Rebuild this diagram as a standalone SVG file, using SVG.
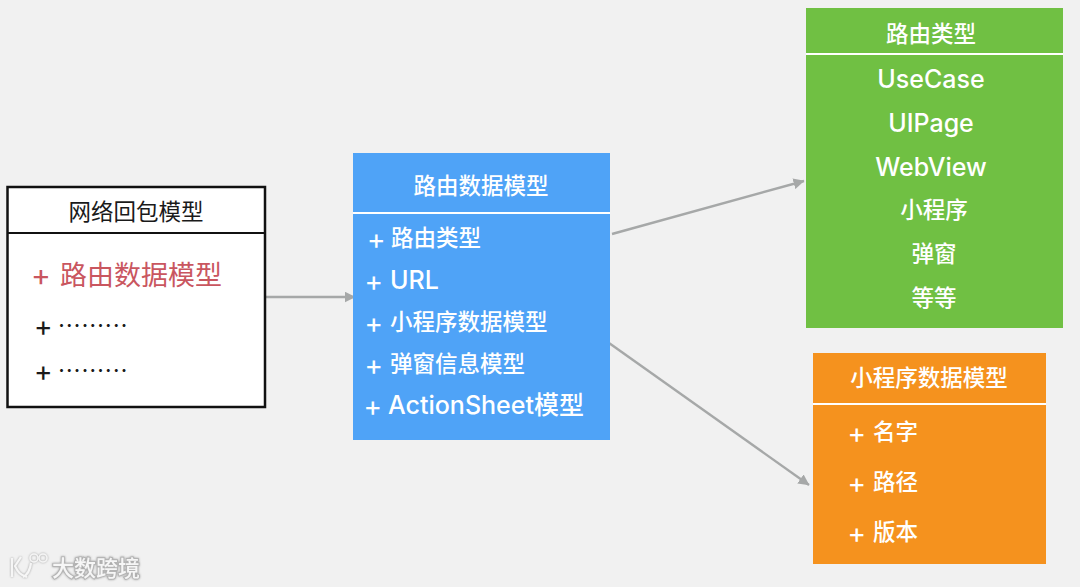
<svg xmlns="http://www.w3.org/2000/svg" width="1080" height="587" viewBox="0 0 1080 587">
<style>
text{font-family:"Inter","Noto Sans CJK SC","Noto Sans",sans-serif;font-size:22.5px;fill:#fff;font-weight:500}
.c{text-anchor:middle}
.k{fill:#1a1a1a;font-weight:400}
.s{font-size:25px}
.p{font-size:28px;font-weight:400}
.d{font-size:18px;letter-spacing:1.800px;font-weight:700}
.div{stroke:#fff;stroke-width:2}
.conn{stroke:#a6a8a8;stroke-width:2.4;fill:none;marker-end:url(#arr)}
.wm{fill:#f6f6f6;font-size:22px;stroke:#b4b4b4;stroke-width:1.800;paint-order:stroke}
.logo{fill:none;stroke:#f6f6f6;stroke-width:2.200}
</style>
<defs>
<marker id="arr" markerUnits="userSpaceOnUse" markerWidth="12" markerHeight="11" refX="10.5" refY="5.5" orient="auto">
<path d="M0 0L11 5.5L0 11z" fill="#a6a8a8"/>
</marker>
<filter id="sh" x="-20%" y="-20%" width="140%" height="140%"><feDropShadow dx="0" dy="0" stdDeviation="1" flood-color="#999"/></filter>
</defs>
<rect width="1080" height="587" fill="#f1f1f1"/>
<g id="connectors">
<path class="conn" d="M264 297L355 297"/>
<path class="conn" d="M612 234L804 181"/>
<path class="conn" d="M609 343L809 485"/>
</g>
<g id="node-network">
<rect x="7.500" y="187" width="257.500" height="220" fill="#fff" stroke="#111" stroke-width="2.500"/>
<path d="M7 233H265" stroke="#111" stroke-width="2"/>
<text class="c k" x="136" y="220">网络回包模型</text>
<text x="31" y="286" style="fill:#c9565f;font-size:30px;font-weight:400">+</text>
<text x="60" y="285" style="fill:#c9565f;font-size:27px;font-weight:400">路由数据模型</text>
<text class="k p" x="34" y="336">+</text>
<text class="k d" x="58.500" y="332">·········</text>
<text class="k p" x="34" y="381">+</text>
<text class="k d" x="58.500" y="377">·········</text>
</g>
<g id="node-route-data">
<rect x="353" y="153" width="257" height="287" fill="#4fa3f7"/>
<path class="div" d="M353 213H610"/>
<text class="c" x="481" y="194">路由数据模型</text>
<text class="p" x="367" y="249">+</text><text x="391" y="246">路由类型</text>
<text class="p" x="364.500" y="291">+</text><text class="s" x="390" y="289">URL</text>
<text class="p" x="364.500" y="333">+</text><text x="390" y="330">小程序数据模型</text>
<text class="p" x="364.500" y="375">+</text><text x="390" y="372">弹窗信息模型</text>
<text class="p" x="363.500" y="416">+</text><text class="s" x="388" y="414">ActionSheet模型</text>
</g>
<g id="node-route-type">
<rect x="806" y="8" width="257" height="320" fill="#70c043"/>
<path class="div" d="M806 54H1063"/>
<text class="c" x="931" y="42">路由类型</text>
<text class="c s" x="931" y="88">UseCase</text>
<text class="c s" x="931" y="132">UIPage</text>
<text class="c s" x="931" y="176">WebView</text>
<text class="c" x="934" y="218">小程序</text>
<text class="c" x="934" y="262">弹窗</text>
<text class="c" x="934" y="306">等等</text>
</g>
<g id="node-miniapp">
<rect x="813" y="353" width="233" height="211" fill="#f5921e"/>
<path class="div" d="M813 404H1046"/>
<text class="c" x="929" y="386">小程序数据模型</text>
<text class="p" x="847.500" y="443">+</text><text x="873" y="440">名字</text>
<text class="p" x="847.500" y="493">+</text><text x="873" y="490">路径</text>
<text class="p" x="847.500" y="543">+</text><text x="873" y="540">版本</text>
</g>
<g id="watermark" filter="url(#sh)">
<path class="logo" d="M12 558V577M21 557L15 566C18 572 20 575 27 577M31 563C30 571 27 575 23 577"/>
<circle class="logo" cx="34" cy="558" r="4" style="stroke-width:1.500"/>
<circle class="logo" cx="43" cy="558" r="4" style="stroke-width:1.500"/>
<text class="wm" x="52" y="576">大数跨境</text>
</g>
</svg>
